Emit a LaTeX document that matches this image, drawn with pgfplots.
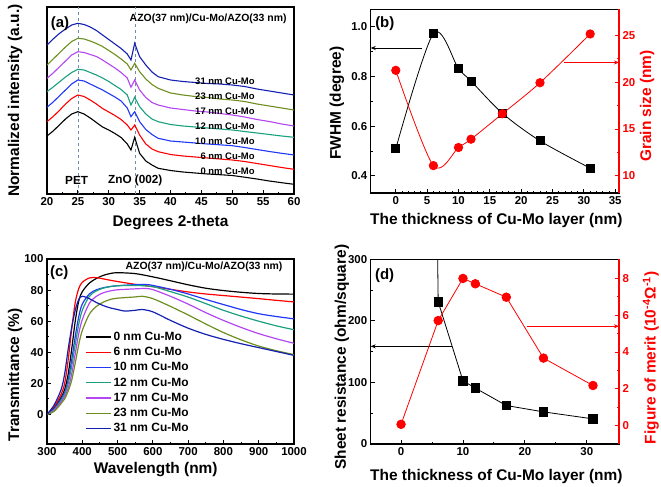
\documentclass[border=0pt]{standalone}
\usepackage{fontspec}
\setmainfont{Liberation Sans}
\usepackage{pgfplots}
\pgfplotsset{compat=1.18}
\usetikzlibrary{arrows.meta}
\definecolor{cblue}{HTML}{2038F8}
\definecolor{cteal}{HTML}{1AA07E}
\definecolor{cpurple}{HTML}{B446F2}
\definecolor{colive}{HTML}{6E8E1E}
\definecolor{cnavy}{HTML}{1420B0}
\definecolor{cdash}{HTML}{6F8CA8}
\pgfplotsset{
  base/.style={
    scale only axis,
    /pgf/number format/assume math mode=true,
    /pgf/number format/1000 sep={},
    tick label style={font=\bfseries\fontsize{11.5}{12}\selectfont},
    label style={font=\bfseries\fontsize{15.5}{16}\selectfont},
    axis line style={line width=1.2bp},
    every tick/.style={line width=0.9bp},
    major tick length=4bp, minor tick length=2.3bp,
    tick align=inside,
  },
  redaxis/.style={
    axis x line=none, axis y line*=right,
    y axis line style={red, line width=1.2bp},
    yticklabel style={red},
    every major tick/.append style={red},
    every minor tick/.append style={red},
    ytick style={red},
  }
}
\newcommand{\tf}[1]{\bfseries\fontsize{#1}{#1}\selectfont}
\begin{document}
\begin{tikzpicture}
\useasboundingbox (0,0) rectangle (661bp,487bp);
% ---------------- (a)
\begin{axis}[base, at={(47bp,293bp)}, anchor=south west, width=247bp, height=187bp,
  xmin=20, xmax=60, ymin=0, ymax=187, xtick={20,25,...,60}, minor x tick num=1,
  ytick=\empty, tick pos=left,
  xlabel={Degrees 2-theta}, ylabel={Normalized intensity (a.u.)},
  xlabel style={at={(axis description cs:0.5,-0.175)}, anchor=base},
  ylabel style={at={(axis description cs:-0.113,0.5)}, anchor=base},
  every axis plot/.append style={line width=1.1bp}]
\addplot[cdash, dashed, line width=0.7bp] coordinates {(25,0)(25,187)};
\addplot[cdash, dashed, line width=0.7bp] coordinates {(34.3,0)(34.3,187)};
\addplot[black] coordinates {(20,58)(21,63)(22,69)(23,75)(24,80)(25,82.3)(26,80)(27,76)(28,71.5)(29,67)(30,64)(31,60.5)(32,56.5)(33,50)(33.6,44)(34.2,56.7)(35,40.7)(36,33)(37,29)(38,25.7)(40,23.5)(42,22)(44,21)(46,20)(48,19.3)(50,18.5)(52,16.8)(54,15)(56,13)(58,11.3)(60,9.7)};
\addplot[red] coordinates {(20,72.3)(21,77.5)(22,83.5)(23,90)(24,95.5)(25,99)(26,97.5)(27,94)(28,90)(29,85.5)(30,82)(31,78.5)(32,74.5)(33,69)(33.6,64)(34.2,69)(35,59)(36,50)(37,45)(38,42.3)(40,39.5)(42,38)(44,37)(46,36)(48,35)(50,34)(52,32.5)(54,30.5)(56,28.5)(58,26.5)(60,24.7)};
\addplot[cblue] coordinates {(20,86.7)(21,92)(22,98)(23,104)(24,110)(25,114)(26,113)(27,110)(28,107)(29,104)(30,100.5)(31,97)(32,93)(33,86)(33.6,77.3)(34.2,82.3)(35,72.3)(36,64.5)(37,59.5)(38,55.7)(40,53)(42,52)(44,51)(46,50)(48,49.2)(50,48.3)(52,46.5)(54,44.5)(56,42.5)(58,40.7)(60,39)};
\addplot[cteal] coordinates {(20,102.3)(21,107)(22,112)(23,117)(24,121.5)(25,124.7)(26,124)(27,121.5)(28,119)(29,116)(30,112.5)(31,108.5)(32,104.5)(33,99)(33.6,89)(34.2,96.7)(35,87.3)(36,80)(37,75)(38,72.3)(40,69.5)(42,68)(44,67)(46,66)(48,65)(50,64)(52,62.5)(54,61)(56,59.5)(58,58)(60,56.7)};
\addplot[cpurple] coordinates {(20,115.7)(21,121)(22,127)(23,133)(24,139)(25,142.3)(26,141.5)(27,139.5)(28,137.5)(29,134)(30,130)(31,126)(32,121.5)(33,116)(33.6,106.7)(34.2,114)(35,104)(36,96.5)(37,91.5)(38,89)(40,86)(42,84.5)(44,83)(46,82)(48,80.5)(50,79)(52,77)(54,74.5)(56,72.5)(58,70)(60,68)};
\addplot[colive] coordinates {(20,129)(21,135)(22,141)(23,147)(24,152.5)(25,155.7)(26,155)(27,153)(28,150.5)(29,147.5)(30,143.5)(31,139.5)(32,135)(33,130)(33.6,124)(34.2,130.7)(35,122.3)(36,115)(37,109.5)(38,105.7)(40,101)(42,99)(44,97.5)(46,96.5)(48,95)(50,94)(52,92.5)(54,90)(56,88)(58,86)(60,84)};
\addplot[cnavy] coordinates {(20,149)(21,155)(22,160.5)(23,165)(24,169)(25,170.7)(26,169.5)(27,167)(28,163.5)(29,159)(30,154.5)(31,150)(32,145.5)(33,140)(33.6,134)(34.2,150.7)(35,137.3)(36,129)(37,122)(38,117.3)(40,114)(42,112.5)(44,111.5)(46,110.5)(48,110)(50,109)(52,107.5)(54,105)(56,103)(58,101)(60,99)};
\node[font=\tf{15}] at (axis cs:22.1,170) {(a)};
\node[font=\tf{10.5}] at (axis cs:46.1,175) {AZO(37 nm)/Cu-Mo/AZO(33 nm)};
\node[font=\tf{11.8}] at (axis cs:24.8,14) {PET};
\node[font=\tf{11.8}] at (axis cs:34.3,14) {ZnO (002)};
\node[font=\tf{9.5}, anchor=east] at (axis cs:54.2,112.3) {31 nm Cu-Mo};
\node[font=\tf{9.5}, anchor=east] at (axis cs:54.2,97.3) {23 nm Cu-Mo};
\node[font=\tf{9.5}, anchor=east] at (axis cs:54.2,82.3) {17 nm Cu-Mo};
\node[font=\tf{9.5}, anchor=east] at (axis cs:54.2,67.3) {12 nm Cu-Mo};
\node[font=\tf{9.5}, anchor=east] at (axis cs:54.2,52.3) {10 nm Cu-Mo};
\node[font=\tf{9.5}, anchor=east] at (axis cs:54.2,38) {6 nm Cu-Mo};
\node[font=\tf{9.5}, anchor=east] at (axis cs:54.2,22.3) {0 nm Cu-Mo};
\end{axis}
% ---------------- (b)
\begin{axis}[base, at={(370.7bp,294bp)}, anchor=south west, width=248.3bp, height=183.5bp,
  xmin=-4, xmax=35.6, ymin=0.331, ymax=1.07, xtick={0,5,...,35}, minor x tick num=4,
  ytick={0.4,0.6,0.8,1.0}, minor y tick num=1, tick pos=left,
  yticklabel style={/pgf/number format/.cd, fixed, fixed zerofill, precision=1},
  xlabel={The thickness of Cu-Mo layer (nm)}, ylabel={FWHM (degree)},
  xlabel style={at={(axis description cs:0.506,-0.169)}, anchor=base},
  ylabel style={at={(axis description cs:-0.12,0.49)}, anchor=base}]
\addplot[black, line width=0.8bp, smooth, mark=square*, mark size=4bp] coordinates {(0,0.509)(6,0.973)(10,0.832)(12,0.782)(17,0.652)(23,0.541)(31,0.431)};
\draw[-{Stealth[length=5bp,width=4bp]}, line width=0.6bp] (axis cs:4.25,0.915) -- (axis cs:-4,0.915);
\node[font=\tf{15}] at (axis cs:-1.75,1.013) {(b)};
\end{axis}
\begin{axis}[base, redaxis, at={(370.7bp,294bp)}, anchor=south west, width=248.3bp, height=183.5bp,
  xmin=-4, xmax=35.6, ymin=8.18, ymax=27.75, ytick={10,15,20,25}, minor y tick num=1,
  ylabel={Grain size (nm)},
  ylabel style={red, at={(axis description cs:1.129,0.474)}, anchor=base}]
\addplot[red, line width=0.8bp, smooth, mark=*, mark size=4.2bp] coordinates {(0,21.26)(6,11.1)(10,13.03)(12,13.92)(17,16.63)(23,19.94)(31,25.14)};
\draw[red, -{Stealth[length=5bp,width=4bp]}, line width=0.6bp] (axis cs:26.9,22.1) -- (axis cs:35.6,22.1);
\end{axis}
% ---------------- (c)
\begin{axis}[base, at={(47bp,43bp)}, anchor=south west, width=247bp, height=185bp,
  xmin=300, xmax=1000, ymin=-19, ymax=100, xtick={300,400,...,1000}, minor x tick num=1,
  ytick={0,20,...,100}, minor y tick num=1, tick pos=left,
  xlabel={Wavelength (nm)}, ylabel={Transmittance (\%)},
  xlabel style={at={(axis description cs:0.44,-0.158)}, anchor=base},
  ylabel style={at={(axis description cs:-0.113,0.373)}, anchor=base},
  every axis plot/.append style={line width=1.2bp, smooth},
  legend style={at={(axis description cs:0.154,0.611)}, anchor=north west, draw=none, fill=none, inner sep=0pt,
    font=\tf{12}, row sep=3.8bp, nodes={inner ysep=0pt, text height=9bp, text depth=2.5bp}},
  legend cell align=left,
  legend image code/.code={\draw[#1, line width=1.3bp] (0bp,0bp) -- (25bp,0bp);}]
\addplot[black] coordinates {(300,0)(320,4)(340,11)(350,16)(360,26)(370,42)(380,60)(390,73)(400,79)(420,84.5)(440,87.5)(460,89.5)(480,90.7)(500,91.2)(550,90.6)(600,88.5)(650,86)(700,83.4)(750,81.2)(800,79.7)(850,78.6)(900,77.8)(950,77.5)(1000,77.4)};
\addlegendentry{0 nm Cu-Mo}
\addplot[red] coordinates {(300,0)(320,5)(340,13)(350,20)(360,35)(370,55)(380,72)(390,81)(400,85)(420,87.8)(440,88)(460,87.2)(480,86.3)(500,85.5)(550,83.7)(600,82.2)(650,80.5)(700,78.8)(750,77.5)(800,76.5)(850,75.5)(900,74.5)(950,73.4)(1000,72.4)};
\addlegendentry{6 nm Cu-Mo}
\addplot[cblue] coordinates {(300,0)(320,3.5)(340,10)(350,14)(360,22)(370,35)(380,50)(390,63)(400,71)(420,77.5)(440,80.2)(460,81.5)(480,82.3)(500,82.8)(550,83.5)(580,83.6)(600,83)(650,80.5)(700,77.5)(750,74)(800,70.7)(850,67.5)(900,64.8)(950,63)(1000,61.5)};
\addlegendentry{10 nm Cu-Mo}
\addplot[cteal] coordinates {(300,0)(320,3)(340,9)(350,13)(360,20)(370,31)(380,45)(390,58)(400,67)(420,76)(440,79.5)(460,81.3)(480,82.3)(500,82.8)(550,83)(600,82.2)(650,79)(700,75.5)(750,71.3)(800,67)(850,63.3)(900,60)(950,57)(1000,54.5)};
\addlegendentry{12 nm Cu-Mo}
\addplot[cpurple] coordinates {(300,0)(320,2.5)(340,8)(350,11.5)(360,17)(370,26)(380,39)(390,52)(400,61)(420,71.5)(440,76)(460,78.3)(480,79.5)(500,80.2)(550,80.8)(580,81)(600,80.3)(650,76)(700,71)(750,65.5)(800,60.5)(850,56)(900,52)(950,48.7)(1000,45.8)};
\addlegendentry{17 nm Cu-Mo}
\addplot[colive] coordinates {(300,0)(320,2)(340,7)(350,10)(360,15)(370,22)(380,33)(390,45)(400,54)(420,64.5)(440,69.5)(460,72.3)(480,74)(500,74.8)(550,75.6)(570,76)(600,74.5)(650,69.5)(700,64)(750,58.2)(800,52.7)(850,48)(900,44)(950,41)(1000,38.5)};
\addlegendentry{23 nm Cu-Mo}
\addplot[cnavy] coordinates {(300,0)(320,6)(340,16)(350,26)(360,42)(370,56)(380,67)(390,74)(400,76)(420,74.5)(440,72)(460,70)(480,68.5)(500,67.5)(520,66.5)(550,67)(570,67.5)(600,66)(650,60.5)(700,55.5)(750,51.5)(800,48.3)(850,45.5)(900,43)(950,40.5)(1000,38)};
\addlegendentry{31 nm Cu-Mo}
\node[font=\tf{15}] at (axis cs:334.6,91.3) {(c)};
\node[font=\tf{10.5}] at (axis cs:745,95) {AZO(37 nm)/Cu-Mo/AZO(33 nm)};
\end{axis}
% ---------------- (d)
\begin{axis}[base, at={(370.7bp,43bp)}, anchor=south west, width=248.3bp, height=184.7bp,
  xmin=-4.9, xmax=35.2, ymin=0, ymax=300, xtick={0,10,20,30}, minor x tick num=1,
  ytick={0,100,200,300}, minor y tick num=1, tick pos=left,
  xlabel={The thickness of Cu-Mo layer (nm)}, ylabel={Sheet resistance (ohm/square)},
  xlabel style={at={(axis description cs:0.506,-0.199)}, anchor=base},
  ylabel style={at={(axis description cs:-0.1,0.47)}, anchor=base}]
\addplot[black, line width=0.8bp, mark=square*, mark size=4.2bp] coordinates {(0,5000)(6,231)(10,102.7)(12,90.8)(17,62.5)(23,52.2)(31,40.8)};
\draw[-{Stealth[length=5bp,width=4bp]}, line width=0.6bp] (axis cs:8.2,158.6) -- (axis cs:-4.9,158.6);
\node[font=\tf{15}] at (axis cs:-2.66,274) {(d)};
\end{axis}
\begin{axis}[base, redaxis, at={(370.7bp,43bp)}, anchor=south west, width=248.3bp, height=184.7bp,
  xmin=-4.9, xmax=35.2, ymin=-1, ymax=9.04, ytick={0,2,4,6,8}, minor y tick num=1,
  ylabel={Figure of merit (10\textsuperscript{-4}Ω\textsuperscript{-1})},
  ylabel style={red, at={(axis description cs:1.147,0.466)}, anchor=base}]
\addplot[red, line width=0.8bp, mark=*, mark size=4.3bp] coordinates {(0,0.07)(6,5.71)(10,8.0)(12,7.71)(17,6.98)(23,3.67)(31,2.18)};
\draw[red, -{Stealth[length=5bp,width=4bp]}, line width=0.6bp] (axis cs:20.3,5.4) -- (axis cs:35.2,5.4);
\end{axis}
\end{tikzpicture}
\end{document}
